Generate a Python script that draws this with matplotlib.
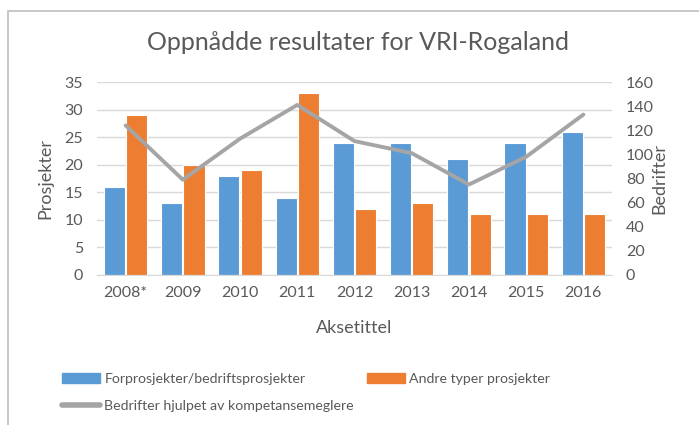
import matplotlib.pyplot as plt
from matplotlib.patches import Rectangle
from matplotlib.lines import Line2D
import numpy as np

years = ['2008*', '2009', '2010', '2011', '2012', '2013', '2014', '2015', '2016']
forprosjekter = [16, 13, 18, 14, 24, 24, 21, 24, 26]
andre = [29, 20, 19, 33, 12, 13, 11, 11, 11]
bedrifter = [124, 79, 113, 141, 111, 101, 75, 98, 133]

blue = '#5B9BD5'
orange = '#ED7D31'
gray = '#A5A5A5'
txt = '#595959'

plt.rcParams['font.family'] = ['Lato', 'DejaVu Sans']

fig = plt.figure(figsize=(6.99, 4.25), dpi=100)
fig.patches.append(Rectangle((8 / 699, -0.1), 1.1, 1 - 11 / 425 + 0.1, transform=fig.transFigure,
                             fill=False, edgecolor='#BFBFBF', linewidth=1.2))

ax = fig.add_axes([97 / 699, 1 - 275 / 425, 515 / 699, 193 / 425])
ax2 = ax.twinx()

x = np.arange(len(years))
w = 0.37
ax.bar(x - w / 2 - 0.01, forprosjekter, w, color=blue, edgecolor='white', linewidth=0.8, zorder=2)
ax.bar(x + w / 2 + 0.01, andre, w, color=orange, edgecolor='white', linewidth=0.8, zorder=2)
ax2.plot(x, bedrifter, color=gray, linewidth=2.8, solid_capstyle='round', zorder=3)

ax.set_xlim(-0.5, len(years) - 0.5)
ax.set_ylim(0, 35)
ax.set_yticks(range(0, 36, 5))
ax2.set_ylim(0, 160)
ax2.set_yticks(range(0, 161, 20))
ax.set_xticks(x)
ax.set_xticklabels(years)

ax.yaxis.grid(True, color='#D9D9D9', linewidth=1)
ax.set_axisbelow(True)
for a in (ax, ax2):
    for s in a.spines.values():
        s.set_visible(False)
    a.tick_params(length=0, labelsize=11.5, colors=txt)
ax.spines['bottom'].set_visible(True)
ax.spines['bottom'].set_color('#D9D9D9')
ax.tick_params(axis='x', pad=8)
ax.tick_params(axis='y', pad=10)
ax2.tick_params(axis='y', pad=10)

ax.set_ylabel('Prosjekter', fontsize=13, color=txt, labelpad=8)
ax2.set_ylabel('Bedrifter', fontsize=13, color=txt, labelpad=-2)
ax.set_xlabel('Aksetittel', fontsize=13, color=txt, labelpad=14)

fig.text(358 / 699, 1 - 43 / 425, 'Oppnådde resultater for VRI-Rogaland', ha='center', va='center',
         fontsize=18, color=txt)

handles = [Rectangle((0, 0), 1, 1, color=blue),
           Line2D([], [], color=gray, linewidth=4, solid_capstyle='round'),
           Rectangle((0, 0), 1, 1, color=orange)]
labels = ['Forprosjekter/bedriftsprosjekter', 'Bedrifter hjulpet av kompetansemeglere',
          'Andre typer prosjekter']
fig.legend(handles, labels, ncol=2, loc='upper left', bbox_to_anchor=(49 / 699, 1 - 360 / 425),
           frameon=False, fontsize=10.2, labelcolor=txt, handlelength=2.7, handleheight=0.65,
           handletextpad=0.3, columnspacing=0.9, labelspacing=1.1)

fig.savefig('out.png', dpi=100)
